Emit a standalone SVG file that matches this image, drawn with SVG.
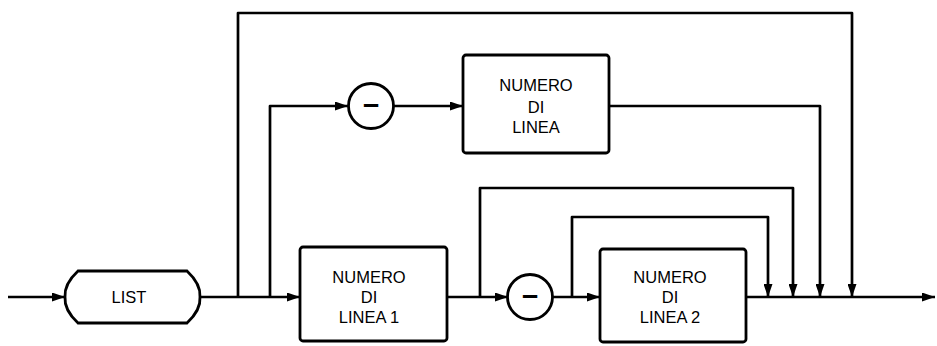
<svg xmlns="http://www.w3.org/2000/svg" width="937" height="346" viewBox="0 0 937 346">
<style>
.ln{fill:none;stroke:#000;stroke-width:2.7;stroke-linejoin:round}
.nd{fill:#fff;stroke:#000;stroke-width:2.8}
.tx{font-family:"Liberation Sans",Arial,sans-serif;font-size:16.5px;fill:#000;text-anchor:middle}
.op{font-family:"Liberation Sans",Arial,sans-serif;font-size:29px;font-weight:bold;fill:#000;text-anchor:middle}
</style>
<defs>
<marker id="ah" markerUnits="userSpaceOnUse" markerWidth="13" markerHeight="9" refX="13" refY="4.5" orient="auto">
<path d="M0,0 L13,4.5 L0,9 z" fill="#000"/>
</marker>
</defs>
<rect width="937" height="346" fill="#fff"/>
<g id="connectors">
<path class="ln" d="M8,297 H65" marker-end="url(#ah)"/>
<path class="ln" d="M200,297 H300" marker-end="url(#ah)"/>
<path class="ln" d="M238,297 V13 H852 V297" marker-end="url(#ah)"/>
<path class="ln" d="M270,297 V106 H348" marker-end="url(#ah)"/>
<path class="ln" d="M394,106 H463" marker-end="url(#ah)"/>
<path class="ln" d="M609,106 H820 V297" marker-end="url(#ah)"/>
<path class="ln" d="M447,297 H508" marker-end="url(#ah)"/>
<path class="ln" d="M480,297 V188 H793 V297" marker-end="url(#ah)"/>
<path class="ln" d="M552,297 H600" marker-end="url(#ah)"/>
<path class="ln" d="M572,297 V217 H768 V297" marker-end="url(#ah)"/>
<path class="ln" d="M746,297 H935" marker-end="url(#ah)"/>
</g>
<g id="list">
<path class="nd" d="M78,271 H187 Q201,284 200,297 Q201,310 187,323 H78 Q64,310 65,297 Q64,284 78,271 Z"/>
<text class="tx" x="129" y="303">LIST</text>
</g>
<g id="minus1">
<circle class="nd" cx="371" cy="106" r="22.5"/>
<text class="op" x="371" y="114">–</text>
</g>
<g id="numero-di-linea">
<rect class="nd" x="463" y="55" width="146" height="98" rx="3"/>
<text class="tx" x="536" y="91">NUMERO</text>
<text class="tx" x="536" y="113">DI</text>
<text class="tx" x="536" y="133">LINEA</text>
</g>
<g id="numero-di-linea-1">
<rect class="nd" x="300" y="247" width="147" height="94" rx="3"/>
<text class="tx" x="369" y="283">NUMERO</text>
<text class="tx" x="369" y="303">DI</text>
<text class="tx" x="369" y="323">LINEA 1</text>
</g>
<g id="minus2">
<circle class="nd" cx="530" cy="297" r="22.5"/>
<text class="op" x="530" y="305">–</text>
</g>
<g id="numero-di-linea-2">
<rect class="nd" x="600" y="249" width="146" height="93" rx="3"/>
<text class="tx" x="670" y="283">NUMERO</text>
<text class="tx" x="670" y="303">DI</text>
<text class="tx" x="670" y="323">LINEA 2</text>
</g>
</svg>
